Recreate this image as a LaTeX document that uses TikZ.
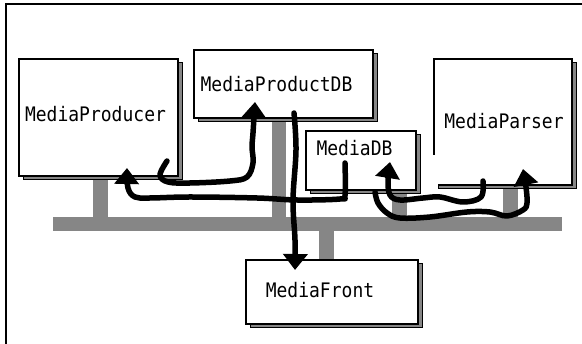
\documentclass[tikz,border=0pt]{standalone}
\usepackage{fontspec}
\newfontfamily\boxfont[FakeStretch=0.9]{DejaVu Sans Mono}
\usetikzlibrary{arrows.meta,shadows}
\tikzset{
myBox/.style={
	rectangle,draw=black,fill=white,line width=1.6pt,
	inner sep=0pt,
	copy shadow={shadow xshift=4pt,shadow yshift=-4pt,fill=gray!95,draw=black,line width=1pt}
}
, myLabel/.style={
	inner sep=0pt, text=black,
	font=\boxfont\fontsize{20}{24}\selectfont
}
, myBus/.style={fill=gray!95,draw=none}
% link
, myFlow/.style={-{Triangle[width=24pt,length=16pt]},line width=5.5pt,line cap=round,line join=round}
}

\begin{document}
\begin{tikzpicture}[x=1pt,y=-1pt]
	\useasboundingbox (0,0) rectangle (582,344);
	% frame
	\draw[line width=2pt] (582,4) -- (6,4) -- (6,344);
	% bus
	\fill[myBus] (53,217) rectangle (562,231);
	\fill[myBus] (93,176) rectangle (108,217);
	\fill[myBus] (272,118) rectangle (286,217);
	\fill[myBus] (392,190) rectangle (407,217);
	\fill[myBus] (503,185) rectangle (518,217);
	\fill[myBus] (319,231) rectangle (334,260);
	% nodes
	\node[myBox,minimum width=159pt,minimum height=117pt] (Producer)  at (98.5,117.5) {};
	\node[myBox,minimum width=179pt,minimum height=68pt]  (ProductDB) at (283.5,84) {};
	\node[myBox,minimum width=110pt,minimum height=59pt]  (MediaDB)   at (361,160.5) {};
	\node[myBox,minimum width=138pt,minimum height=126pt] (Parser)    at (503,122) {};
	\fill[white] (424,155) rectangle (437.5,190);
	\node[myBox,minimum width=172pt,minimum height=64pt]  (Front)     at (332,292) {};
	% labels
	\node[myLabel,anchor=base] (ProducerText)  at (95.5,122) {MediaProducer};
	\node[myLabel,anchor=base] (ProductDBText) at (276.5,92) {MediaProductDB};
	\node[myLabel,anchor=base] (MediaDBText)   at (354.5,156) {MediaDB};
	\node[myLabel,anchor=base] (ParserText)    at (504,129) {MediaParser};
	\node[myLabel,anchor=base] (FrontText)     at (320,298) {MediaFront};
	% link ends
	\coordinate (ProducerOut)  at (167,161);
	\coordinate (ProducerIn)   at (127,168);
	\coordinate (ProductDBOut) at (294,113);
	\coordinate (ProductDBIn)  at (255,102);
	\coordinate (MediaDBOut)   at (345,163);
	\coordinate (MediaDBOutB)  at (375,192);
	\coordinate (MediaDBIn)    at (390,162);
	\coordinate (ParserOut)    at (483,181);
	\coordinate (ParserIn)     at (523,169);
	\coordinate (FrontIn)      at (295,270);
	% links
	\draw[myFlow] plot[smooth,tension=0.6] coordinates {(ProducerOut) (160,175) (168,182) (190,183) (230,181) (247,177) (253,163) (252,147) (253,133) (ProductDBIn)};
	\draw[myFlow] plot[smooth,tension=0.6] coordinates {(MediaDBOut) (345,195) (340,199) (297,200) (257,198) (190,197) (150,198) (135,197) (128,188) (ProducerIn)};
	\draw[myFlow] plot[smooth,tension=0.6] coordinates {(ProductDBOut) (296,150) (293,200) (295,240) (FrontIn)};
	\draw[myFlow] plot[smooth,tension=0.6] coordinates {(ParserOut) (481,197) (463,202) (440,197) (423,198) (400,200) (390,195) (388,180) (MediaDBIn)};
	\draw[myFlow] plot[smooth,tension=0.6] coordinates {(MediaDBOutB) (378,203) (387,213) (400,218) (430,217) (467,212) (490,212) (507,216) (523,210) (527,203) (526,187) (ParserIn)};
\end{tikzpicture}
\end{document}
